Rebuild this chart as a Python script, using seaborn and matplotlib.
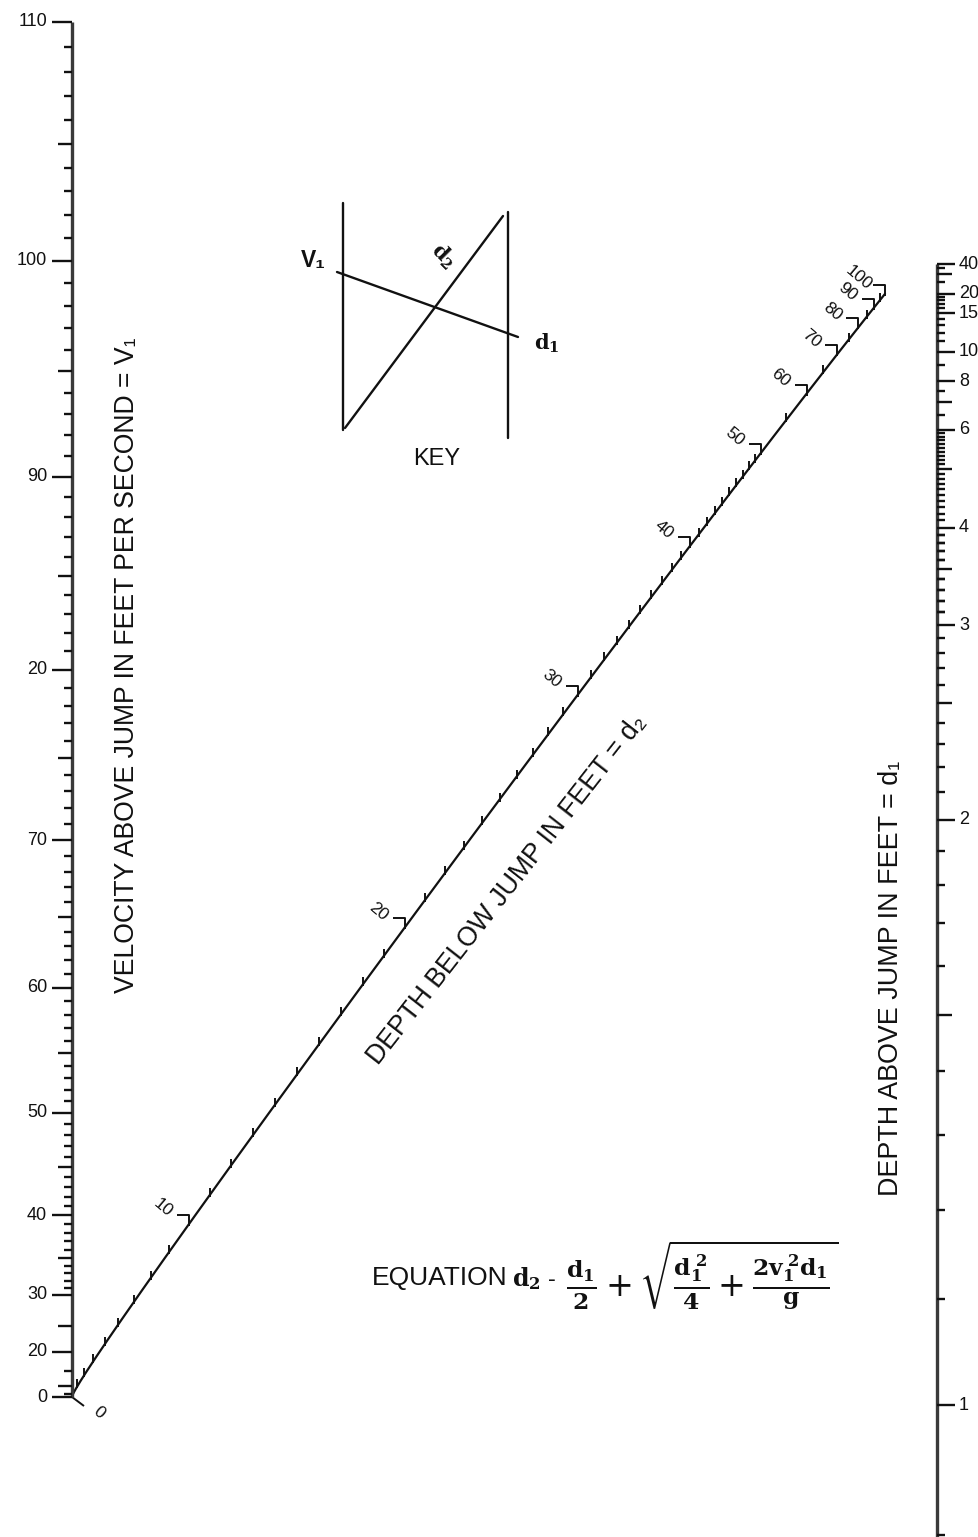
import numpy as np
import pandas as pd
import matplotlib
matplotlib.use("Agg")
import matplotlib.pyplot as plt
import seaborn as sns
from matplotlib.collections import LineCollection

v1_major = [0, 20, 30, 40, 50, 60, 70, 80, 90, 100, 110]
v1_labels = ["0", "20", "30", "40", "50", "60", "70", "20", "90", "100", "110"]
v1_medium = [10, 25, 35, 45, 55, 65, 75, 85, 95, 105]
v1_minor = [5, 15] + [v for v in range(31, 110) if v % 5 != 0]

d1_major = [1, 2, 3, 4, 6, 8, 10, 15, 20, 40]
d1_labels = ["1", "2", "3", "4", "6", "8", "10", "15", "20", "40"]
d1_medium = [1.5, 2.5, 3.5, 5, 7, 30]
d1_minor = ([0.9] + [round(1 + 0.1 * i, 1) for i in range(1, 30) if i % 10 != 0 and i != 5 and i != 15 and i != 25]
            + [round(3 + 0.1 * i, 1) for i in range(1, 10) if i != 5]
            + [round(4 + 0.1 * i, 1) for i in range(1, 20) if i != 10]
            + [6.5, 7.5, 9, 11, 12, 13, 14, 16, 17, 18, 19, 25, 35])

d2_major = [0, 10, 20, 30, 40, 50, 60, 70, 80, 90, 100]
d2_labels = ["0", "10", "20", "30", "40", "50", "60", "70", "80", "90", "100"]
d2_minor = [d for d in range(1, 50) if d % 10 != 0] + [55, 65, 75, 85, 95]

G = 32.2  # gravity, ft/s^2

# ---------------- layout of the nomograph (pixel canvas) ----------------
W, H = 979, 1537
X_LEFT, X_RIGHT = 72, 937
Y_V0, PX_V2 = 1397, 0.11364      # left scale: y = Y_V0 - PX_V2 * v^2
Y_D1_INF, PX_D1 = 235, 1170      # right scale: y = Y_D1_INF + PX_D1 / d1
K = PX_V2 * G / (2 * PX_D1)


def y_v(v):
    return Y_V0 - PX_V2 * np.asarray(v, float) ** 2


def y_d1(d):
    return Y_D1_INF + PX_D1 / np.asarray(d, float)


def d2_xy(d2):
    d2 = np.asarray(d2, float)
    t = K * d2 ** 2 / (1 + K * d2 ** 2)
    x = X_LEFT + (X_RIGHT - X_LEFT) * t
    y = (1 - t) * (Y_V0 - PX_V2 * G / 2 * d2) + t * Y_D1_INF
    return x, y


sns.set_style("white")
plt.rcParams["font.family"] = ["Liberation Sans", "DejaVu Sans"]
plt.rcParams["mathtext.fontset"] = "dejavuserif"

fig = plt.figure(figsize=(W / 100, H / 100), dpi=100)
ax = fig.add_axes([0, 0, 1, 1])

INK = "#111111"
AX_INK = "#3a3a3a"
TICK_FS = 13

# ---------------- diagonal scale: depth d2 ----------------
curve = pd.DataFrame({"d2": np.linspace(0, 100, 400)})
curve["x"], curve["y"] = d2_xy(curve["d2"])
sns.lineplot(data=curve, x="x", y="y", sort=False, estimator=None, color=INK, lw=1.6, ax=ax)
ax.set_xlim(0, W)
ax.set_ylim(H, 0)
ax.axis("off")

mx, my = d2_xy(d2_minor)
segs = [[(x, y + 2), (x, y - 7)] for x, y in zip(mx, my)]
Mx, My = d2_xy(d2_major)
for x, y, d in zip(Mx, My, d2_major):
    if d == 0:
        segs.append([(x, y), (x + 12, y + 9)])
    else:
        segs.append([(x, y + 2), (x, y - 9), (x - 12, y - 9)])
ax.add_collection(LineCollection(segs, colors=INK, linewidths=1.4))
for x, y, d, lab in zip(Mx, My, d2_major, d2_labels):
    if d == 0:
        ax.text(x + 27, y + 16, lab, ha="center", va="center", rotation=-40, fontsize=12.5, color=INK)
    else:
        ax.text(x - 26, y - 16, lab, ha="center", va="center", rotation=-40, fontsize=12.5, color=INK)

# ---------------- left scale: velocity v1 ----------------
ax.plot([X_LEFT, X_LEFT], [y_v(0), y_v(110)], color=AX_INK, lw=2.4, solid_capstyle="butt")
segs = [[(X_LEFT - 20, y), (X_LEFT, y)] for y in y_v(v1_major)]
segs += [[(X_LEFT - 14, y), (X_LEFT, y)] for y in y_v(v1_medium)]
segs += [[(X_LEFT - 8, y), (X_LEFT, y)] for y in y_v(v1_minor)]
ax.add_collection(LineCollection(segs, colors=INK, linewidths=1.7))
for v, lab in zip(v1_major, v1_labels):
    ax.text(X_LEFT - 25, float(y_v(v)), lab, ha="right", va="center", fontsize=TICK_FS, color=INK)

# ---------------- right scale: depth d1 ----------------
ax.plot([X_RIGHT, X_RIGHT], [float(y_d1(40)), H], color=AX_INK, lw=2.4, solid_capstyle="butt")
segs = [[(X_RIGHT, y), (X_RIGHT + 18, y)] for y in y_d1(d1_major)]
segs += [[(X_RIGHT, y), (X_RIGHT + 15, y)] for y in y_d1(d1_medium)]
segs += [[(X_RIGHT, y), (X_RIGHT + 8, y)] for y in y_d1(d1_minor)]
ax.add_collection(LineCollection(segs, colors=INK, linewidths=1.7))
for d, lab in zip(d1_major, d1_labels):
    ax.text(X_RIGHT + 22, float(y_d1(d)), lab, ha="left", va="center", fontsize=TICK_FS, color=INK)

# ---------------- axis titles ----------------
ax.text(127, 665, "VELOCITY ABOVE JUMP IN FEET PER SECOND = V\u2081", rotation=90,
        ha="center", va="center", fontsize=19.2, color=INK)
ax.text(891, 978, "DEPTH ABOVE JUMP IN FEET = d\u2081", rotation=90,
        ha="center", va="center", fontsize=19.4, color=INK)
ax.text(507, 890, "DEPTH BELOW JUMP IN FEET = d\u2082", rotation=52,
        ha="center", va="center", fontsize=19.2, color=INK, rotation_mode="anchor")

# ---------------- key ----------------
key_x = [343, 508]
key_top = [203, 212]
key_bottom = [430, 438]
for x, yt, yb in zip(key_x, key_top, key_bottom):
    ax.plot([x, x], [yt, yb], color=INK, lw=1.7)
ax.plot([345, 503], [428, 216], color=INK, lw=1.7)
ax.plot([337, 518], [272, 337], color=INK, lw=1.7)
ax.text(313, 260, "V\u2081", ha="center", va="center", fontsize=16.5, color=INK, fontweight="bold")
ax.text(443, 256, "$\\mathbf{d_2}$", ha="center", va="center", fontsize=15, rotation=-45, color=INK)
ax.text(547, 343, "$\\mathbf{d_1}$", ha="center", va="center", fontsize=15, color=INK)
ax.text(437, 459, "KEY", ha="center", va="center", fontsize=17, color=INK)

# ---------------- equation ----------------
ax.text(372, 1278, "EQUATION", ha="left", va="center", fontsize=19, color=INK)
ax.text(512, 1279, r"$\mathbf{d_2}$ -", ha="left", va="center", fontsize=17, color=INK)
ax.text(566, 1276,
        r"$\frac{\mathbf{d_1}}{\mathbf{2}} + \sqrt{\frac{\mathbf{d_1^{\ 2}}}{\mathbf{4}} + \frac{\mathbf{2v_1^{\ 2}d_1}}{\mathbf{g}}}$",
        ha="left", va="center", fontsize=24, color=INK)

fig.savefig("out.png", dpi=100, facecolor="white")
